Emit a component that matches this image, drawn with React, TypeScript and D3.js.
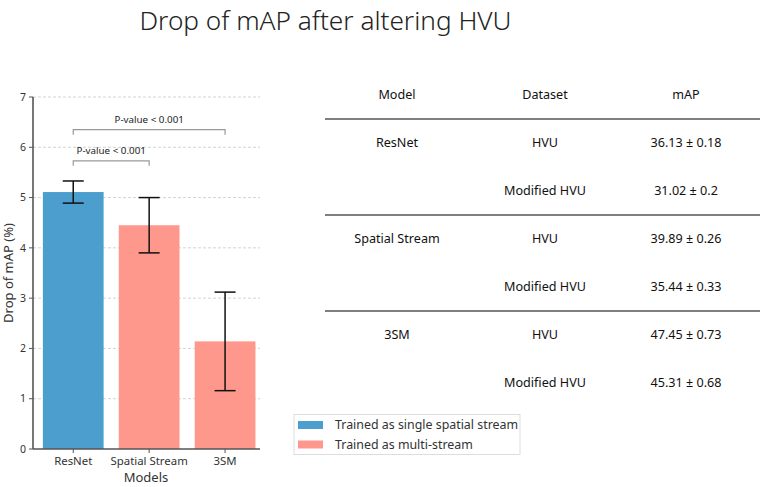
import React from "react";
import * as d3 from "d3";

const models = ["ResNet", "Spatial Stream", "3SM"];
const drops = [5.11, 4.45, 2.14];
const errors = [0.22, 0.55, 0.98];
const groups = ["single", "multi", "multi"];
const yTicks = [0, 1, 2, 3, 4, 5, 6, 7];
const legendLabels = ["Trained as single spatial stream", "Trained as multi-stream"];
const sigPairs: [number, number, number, string][] = [
  [0, 2, 6.35, "P-value < 0.001"],
  [0, 1, 5.73, "P-value < 0.001"],
];
const tableHeader = ["Model", "Dataset", "mAP"];
const tableModels = ["ResNet", "", "Spatial Stream", "", "3SM", ""];
const tableDatasets = ["HVU", "Modified HVU", "HVU", "Modified HVU", "HVU", "Modified HVU"];
const tableMAP = ["36.13 ± 0.18", "31.02 ± 0.2", "39.89 ± 0.26", "35.44 ± 0.33", "47.45 ± 0.73", "45.31 ± 0.68"];

const BLUE = "#4c9ece";
const PINK = "#ff988c";
const FONT = "'Noto Sans', 'Open Sans', sans-serif";

export default function App() {
  const W = 767, H = 487;
  const y = d3.scaleLinear().domain([0, 7]).range([449, 97]);
  const x = d3.scaleLinear().domain([-0.53, 2.46]).range([33, 260]);
  const bw = 0.8;
  const color = (g: string) => (g === "single" ? BLUE : PINK);

  const colX = [397, 545, 686];
  const rowY = d3.scaleLinear().domain([0, 1]).range([143, 191]);

  return (
    <svg width={W} height={H} style={{ position: "absolute", left: 0, top: 0, background: "#fff" }} fontFamily={FONT}>
      <text x={325.5} y={30} textAnchor="middle" fontSize={26.2} fill="#222" fontWeight={300}>Drop of mAP after altering HVU</text>

      {/* grid */}
      {yTicks.slice(1).map((t) => (
        <line key={"g" + t} x1={33} x2={260} y1={y(t)} y2={y(t)} stroke="#c8c8c8" strokeDasharray="3,2" strokeWidth={0.8} />
      ))}

      {/* bars */}
      {models.map((m, i) => (
        <rect key={m} x={x(i - bw / 2)} width={x(i + bw / 2) - x(i - bw / 2)} y={y(drops[i])} height={y(0) - y(drops[i])} fill={color(groups[i])} />
      ))}
      {/* error bars */}
      {models.map((m, i) => (
        <g key={"e" + m} stroke="#111" strokeWidth={1.5}>
          <line x1={x(i)} x2={x(i)} y1={y(drops[i] + errors[i])} y2={y(drops[i] - errors[i])} />
          <line x1={x(i) - 10.5} x2={x(i) + 10.5} y1={y(drops[i] + errors[i])} y2={y(drops[i] + errors[i])} />
          <line x1={x(i) - 10.5} x2={x(i) + 10.5} y1={y(drops[i] - errors[i])} y2={y(drops[i] - errors[i])} />
        </g>
      ))}

      {/* significance */}
      {sigPairs.map(([a, b, h, label], k) => (
        <g key={"s" + k}>
          <path d={`M${x(a)},${y(h) + 5} V${y(h)} H${x(b)} V${y(h) + 5}`} fill="none" stroke="#999" strokeWidth={1.2} />
          <text x={(x(a) + x(b)) / 2} y={y(h) - 7} textAnchor="middle" fontSize={9.8} fill="#222">{label}</text>
        </g>
      ))}

      {/* axes */}
      <line x1={33} x2={33} y1={97} y2={449} stroke="#555" strokeWidth={1.6} />
      <line x1={33} x2={260} y1={449} y2={449} stroke="#555" strokeWidth={1.6} />
      {yTicks.map((t) => (
        <g key={"t" + t}>
          <line x1={29} x2={33} y1={y(t)} y2={y(t)} stroke="#555" strokeWidth={1} />
          <text x={26} y={y(t)} dy="0.35em" textAnchor="end" fontSize={10.5} fill="#333">{t}</text>
        </g>
      ))}
      {models.map((m, i) => (
        <g key={"xt" + m}>
          <line x1={x(i)} x2={x(i)} y1={449} y2={453} stroke="#555" strokeWidth={1} />
          <text x={x(i)} y={465} textAnchor="middle" fontSize={11.4} fill="#333">{m}</text>
        </g>
      ))}
      <text x={146} y={482} textAnchor="middle" fontSize={13} fill="#333">Models</text>
      <text transform={`translate(13,273) rotate(-90)`} textAnchor="middle" fontSize={13} fill="#333">Drop of mAP (%)</text>

      {/* legend */}
      <rect x={294} y={414.5} width={226} height={40} fill="#fff" stroke="#ddd" strokeWidth={1} />
      {legendLabels.map((l, i) => (
        <g key={l}>
          <rect x={298} y={421 + i * 19.5} width={25} height={8} fill={i === 0 ? BLUE : PINK} />
          <text x={335} y={425 + i * 19.5} dy="0.35em" fontSize={12.4} fill="#333">{l}</text>
        </g>
      ))}

      {/* table */}
      {tableHeader.map((h, j) => (
        <text key={h} x={colX[j]} y={95} dy="0.35em" textAnchor="middle" fontSize={12.6} fill="#111">{h}</text>
      ))}
      {[0, 2, 4].map((r) => (
        <line key={"tl" + r} x1={325} x2={760} y1={rowY(r) - 24} y2={rowY(r) - 24} stroke="#555" strokeWidth={1.5} />
      ))}
      {tableDatasets.map((d, r) => (
        <g key={"row" + r}>
          <text x={colX[0]} y={rowY(r)} dy="0.35em" textAnchor="middle" fontSize={12.6} fill="#111">{tableModels[r]}</text>
          <text x={colX[1]} y={rowY(r)} dy="0.35em" textAnchor="middle" fontSize={12.6} fill="#111">{d}</text>
          <text x={colX[2]} y={rowY(r)} dy="0.35em" textAnchor="middle" fontSize={12.6} fill="#111">{tableMAP[r]}</text>
        </g>
      ))}
    </svg>
  );
}
